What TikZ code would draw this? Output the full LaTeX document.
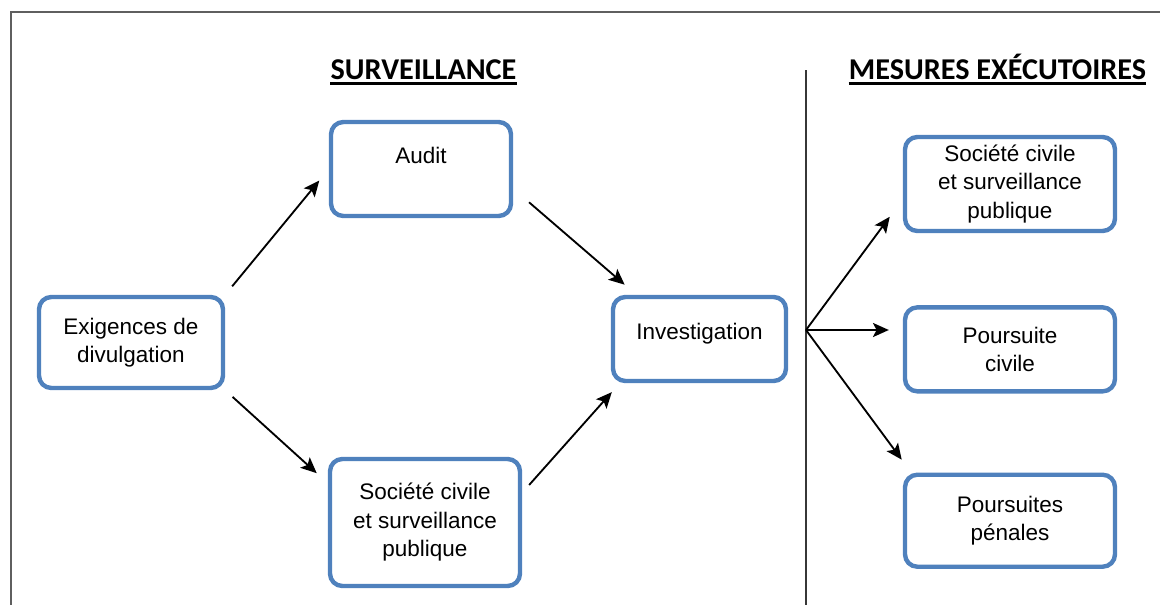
\documentclass[tikz,border=0pt]{standalone}
\usepackage{fontspec}
\setmainfont{Liberation Sans}
\newfontfamily\headfont{Carlito}
\usepackage{xcolor}
\usepackage{tikz}
\usetikzlibrary{
  arrows.meta,
  positioning
}
\definecolor{boxblue}{RGB}{79, 129, 189}
\definecolor{framegray}{RGB}{95, 95, 95}
\definecolor{divgray}{RGB}{55, 55, 55}
\tikzset{
  stage/.style = {
    rectangle, rounded corners=7pt,
    draw=boxblue, line width=2.5pt,
    fill=white, align=center, inner sep=0pt,
    font=\fontsize{12.8}{16.2}\selectfont
  },
  colhead/.style = {
    font=\headfont\bfseries\fontsize{17.2}{20}\selectfont,
    inner sep=0pt, anchor=base
  },
  uline/.style = {line width=1.6pt},
  arr/.style = {-{Stealth[length=9pt, width=8pt, inset=2pt]}, draw=black, line width=1.05pt},
  outerframe/.style = {draw=framegray, line width=1.2pt},
  divider/.style = {draw=divgray, line width=1.1pt},
}

\begin{document}
\begin{tikzpicture}[x=0.02cm, y=-0.02cm]

  \useasboundingbox (0,0) rectangle (1160,605);
  \draw[outerframe] (11,605) |- (1160,12);
  \draw[divider] (806,70) -- (806,605);

  % column headings
  \node[colhead] (survhead) at (423.5,79.5) {SURVEILLANCE};
  \node[colhead] (mesuhead) at (997.5,79) {MESURES EXÉCUTOIRES};
  \draw[uline] ([yshift=-2.4pt]survhead.base west) -- ([yshift=-2.4pt]survhead.base east);
  \draw[uline] ([yshift=-2.4pt]mesuhead.base west) -- ([yshift=-2.4pt]mesuhead.base east);

  % surveillance side
  \node[stage, minimum width=3.68cm, minimum height=1.82cm] (exig)
    at (131,342.5) {Exigences de\\divulgation};
  \node[stage, minimum width=3.6cm, minimum height=1.88cm, text depth=16pt]
    (audit) at (421,169) {Audit};
  \node[stage, minimum width=3.8cm, minimum height=2.54cm] (socA)
    at (425,522.5) {Société civile\\et surveillance\\publique};
  \node[stage, minimum width=3.46cm, minimum height=1.68cm, text depth=9.2pt]
    (invest) at (699.5,339) {Investigation};

  % enforcement side
  \node[stage, minimum width=4.2cm, minimum height=1.88cm] (socB)
    at (1010,184) {Société civile\\et surveillance\\publique};
  \node[stage, minimum width=4.2cm, minimum height=1.68cm, below=1.44cm of socB]
    (civ) {Poursuite\\civile};
  \node[stage, minimum width=4.2cm, minimum height=1.84cm, below=1.58cm of civ]
    (pen) {Poursuites\\pénales};

  \coordinate (hub) at (806,330);

  %% Arrows
  \draw[arr, shorten <=0.22cm, shorten >=0.3cm] (exig.north east) -- (audit.west);
  \draw[arr, shorten <=0.2cm, shorten >=0.3cm] (exig.south east) -- (socA.158);
  \draw[arr, shorten <=0.42cm, shorten >=0.31cm] (audit.-12) -- (invest.145);
  \draw[arr, shorten <=0.21cm, shorten >=0.24cm] (socA.17) -- (invest.209);
  \draw[arr, shorten >=0.44cm] (hub) -- (socB.188);
  \draw[arr, shorten >=0.28cm] (hub) -- (hub -| civ.west);
  \draw[arr, shorten >=0.32cm] (hub) -- (pen.154);

\end{tikzpicture}
\end{document}
